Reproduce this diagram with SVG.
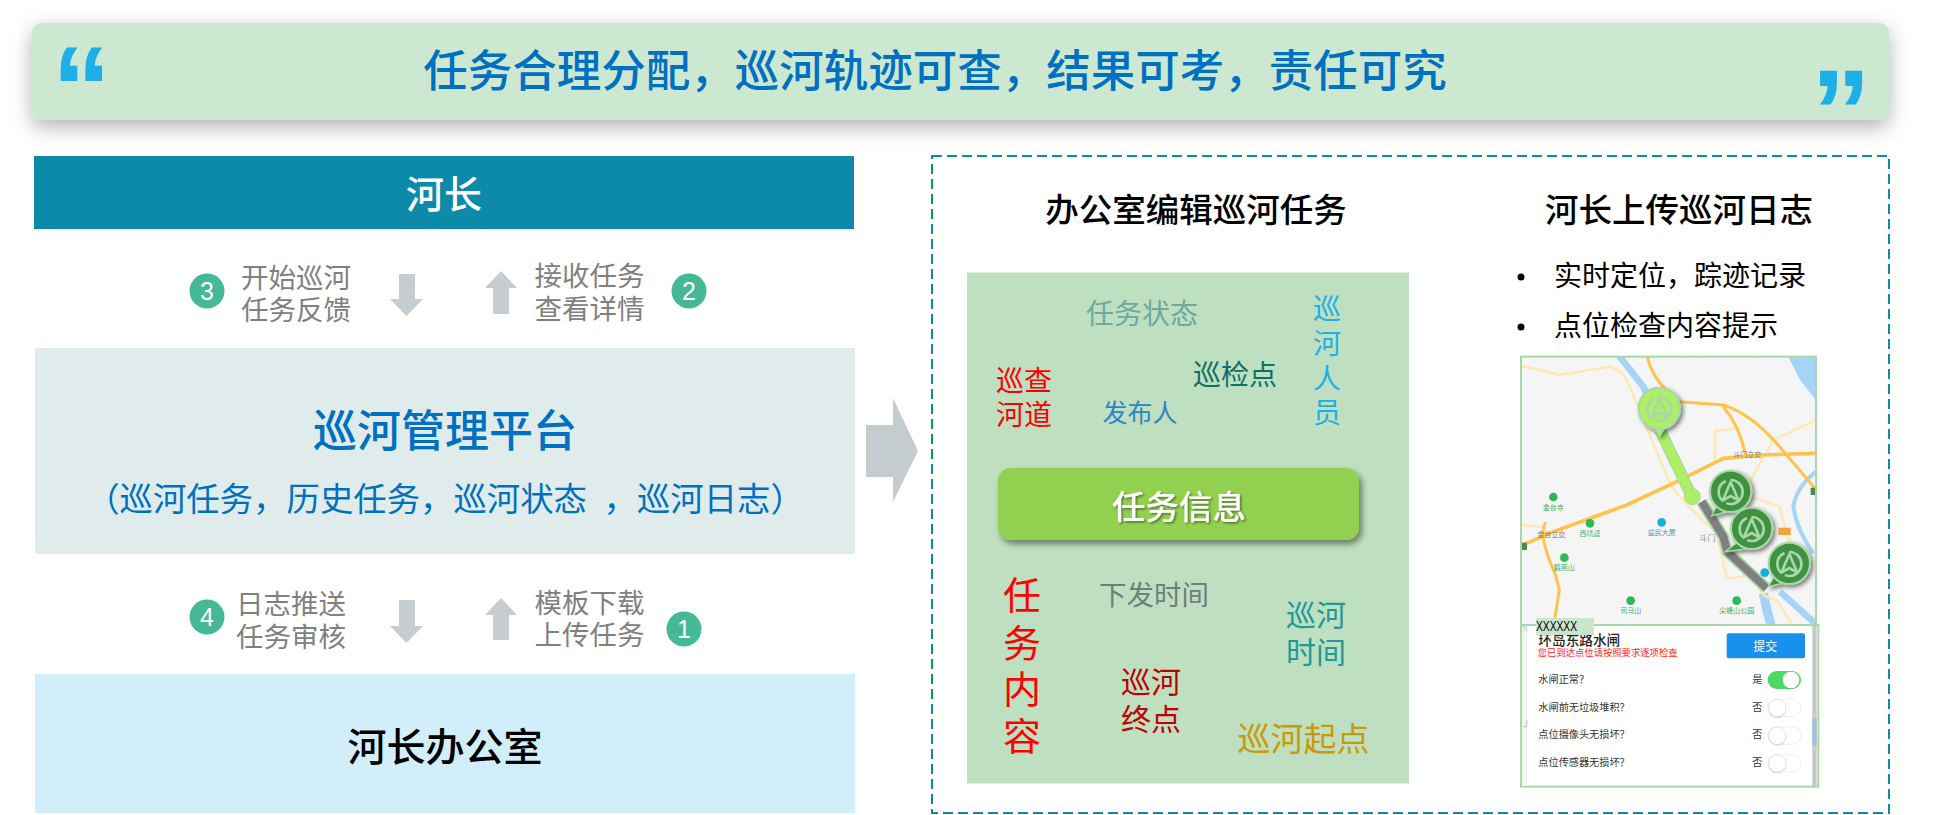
<svg xmlns="http://www.w3.org/2000/svg" width="1936" height="815" viewBox="0 0 1936 815">
<style>
text{font-family:"Noto Sans CJK SC","Noto Sans",sans-serif}
.m{text-anchor:middle}
.g{font-size:27.5px;fill:#808080}
.num{font-family:"Liberation Sans",Arial,sans-serif;font-size:25px;fill:#fff;text-anchor:middle}
.circ{fill:#45b995}
.arr{fill:#c5cdd3}
.blue{fill:#0070c0}
.quote{font-family:"Liberation Sans",Arial,sans-serif;font-weight:700;fill:#1eaee8}
.hd{font-size:33.5px;font-weight:500;fill:#000;text-anchor:middle}
.bl{font-size:28px;fill:#000}
.wc{font-size:28px;text-anchor:middle}
.road{fill:none;stroke:#ffc34d;stroke-width:9;stroke-linejoin:round;stroke-linecap:round}
.pale{fill:none;stroke:#ffe9b0;stroke-width:7;stroke-linejoin:round}
.river{fill:none;stroke:#a5d4f8;stroke-width:20}
.poi{font-size:21px;fill:#3fae6a;text-anchor:middle}
.poig{font-size:21px;fill:#777;text-anchor:middle}
.dot{fill:#2fb85a}
.pin{stroke:#a8d8a8;stroke-width:6}
.ring{fill:none;stroke:#a8d8a8;stroke-width:8;stroke-dasharray:70 14}
.nav{fill:none;stroke:#a8d8a8;stroke-width:8;stroke-linejoin:round}
.q{font-size:30.5px;fill:#333}
.off{fill:#fff;stroke:#e6e6e6;stroke-width:2}
.knob{fill:#fff;stroke:#ddd;stroke-width:2}
</style>
<defs>
<filter id="bs" x="-5%" y="-40%" width="110%" height="190%"><feDropShadow dx="0" dy="7" stdDeviation="10" flood-color="#000" flood-opacity=".3"/></filter>
<filter id="btn" x="-10%" y="-20%" width="120%" height="150%"><feDropShadow dx="3" dy="4" stdDeviation="3" flood-color="#000" flood-opacity=".45"/></filter>
<filter id="ts" x="-10%" y="-20%" width="120%" height="150%"><feDropShadow dx="1.5" dy="1.5" stdDeviation="1" flood-color="#000" flood-opacity=".45"/></filter>
<filter id="ps" x="-30%" y="-30%" width="170%" height="170%"><feDropShadow dx="7" dy="7" stdDeviation="7" flood-color="#000" flood-opacity=".5"/></filter>
<filter id="ks" x="-30%" y="-30%" width="170%" height="170%"><feDropShadow dx="0" dy="2" stdDeviation="2" flood-color="#000" flood-opacity=".25"/></filter>
<g id="navIcon"><circle r="36" class="ring"/><path class="nav" d="M0,-30 L24,26 L0,12 L-24,26 Z"/></g>
</defs>
<rect width="1936" height="815" fill="#fff"/>

<g id="banner">
<rect x="32" y="23" width="1857" height="97" rx="9" fill="#cde8d0" filter="url(#bs)"/>
<text class="quote" x="52" y="128.500" font-size="118">&#x201C;</text>
<text class="quote" x="1811" y="153.500" font-size="120">&#x201D;</text>
<text class="m blue" x="935" y="87" font-size="44.500" font-weight="500">任务合理分配&#xFF0C;巡河轨迹可查&#xFF0C;结果可考&#xFF0C;责任可究</text>
</g>

<g id="hezhang">
<rect x="34" y="156" width="820" height="73" fill="#0d89a9"/>
<text class="m" x="444" y="208" font-size="38" font-weight="500" fill="#fff">河长</text>
</g>

<g id="platform">
<rect x="35" y="348" width="820" height="206" fill="#e0eceb"/>
<text class="m blue" x="445" y="447" font-size="44" font-weight="500">巡河管理平台</text>
<text class="m blue" x="445" y="511" font-size="33.400" word-spacing="9">&#xFF08;巡河任务&#xFF0C;历史任务&#xFF0C;巡河状态 &#xFF0C;巡河日志&#xFF09;</text>
</g>

<g id="office">
<rect x="35" y="674" width="820" height="139" fill="#d2eefa"/>
<text class="m" x="445" y="761" font-size="39" font-weight="500" fill="#000">河长办公室</text>
</g>

<g id="connectors">
<path class="arr" d="M399,274H415V299H423L406.500,316L390,299H399Z"/>
<path class="arr" d="M493,314H509V288H517L501,271L485,288H493Z"/>
<path class="arr" d="M399,600H415V626H423L406.500,643L390,626H399Z"/>
<path class="arr" d="M493,640H509V615H517L501,598L485,615H493Z"/>
<path fill="#c5ccd0" d="M866,425H893V398L918,451L893,502V477H866Z"/>
</g>

<g id="step3">
<circle class="circ" cx="207" cy="291" r="17.500"/><text class="num" x="207" y="300">3</text>
<text class="g m" x="296" y="288">开始巡河</text><text class="g m" x="296" y="320">任务反馈</text>
</g>
<g id="step2">
<circle class="circ" cx="689" cy="291" r="17.500"/><text class="num" x="689" y="300">2</text>
<text class="g m" x="589.500" y="286">接收任务</text><text class="g m" x="589.500" y="319">查看详情</text>
</g>
<g id="step4">
<circle class="circ" cx="207" cy="617" r="17.500"/><text class="num" x="207" y="626">4</text>
<text class="g m" x="291" y="614">日志推送</text><text class="g m" x="291" y="647">任务审核</text>
</g>
<g id="step1">
<circle class="circ" cx="684" cy="629" r="17.500"/><text class="num" x="684" y="638">1</text>
<text class="g m" x="589.500" y="613">模板下载</text><text class="g m" x="589.500" y="645">上传任务</text>
</g>

<g id="detail">
<rect x="932" y="156" width="957" height="657" fill="#fff" stroke="#0d89a9" stroke-width="2" stroke-dasharray="10 5"/>
<text class="hd" x="1196" y="222">办公室编辑巡河任务</text>
<text class="hd" x="1679" y="222">河长上传巡河日志</text>
<circle cx="1521" cy="277" r="3.500"/><text class="bl" x="1554" y="286">实时定位&#xFF0C;踪迹记录</text>
<circle cx="1521" cy="327" r="3.500"/><text class="bl" x="1554" y="336">点位检查内容提示</text>
</g>

<g id="task-panel">
<rect x="967" y="272.500" width="442" height="511" fill="#bee0c0"/>
<text class="wc" x="1142" y="324" fill="#6fa8a0">任务状态</text>
<text class="wc" fill="#1eaee8"><tspan x="1327" y="319">巡</tspan><tspan x="1327" y="354">河</tspan><tspan x="1327" y="389">人</tspan><tspan x="1327" y="423">员</tspan></text>
<text class="wc" x="1024" y="391" fill="#f00">巡查</text><text class="wc" x="1024" y="425" fill="#f00">河道</text>
<text class="wc" x="1235" y="385" fill="#0f6f6a">巡检点</text>
<text class="m" x="1140" y="422" font-size="25" fill="#2e86c1">发布人</text>
<rect x="998" y="468" width="361" height="72" rx="13" fill="#92d14f" filter="url(#btn)"/>
<text class="m" x="1179" y="519" font-size="33.500" font-weight="500" fill="#fff" filter="url(#ts)">任务信息</text>
<text class="m" font-size="38" fill="#f00"><tspan x="1022" y="609">任</tspan><tspan x="1022" y="657">务</tspan><tspan x="1022" y="703">内</tspan><tspan x="1022" y="750">容</tspan></text>
<text class="wc" x="1154" y="605" style="font-size:27.5px" fill="#6b7f7f">下发时间</text>
<text class="m" x="1316" y="626" font-size="30" fill="#1d9a9a">巡河</text><text class="m" x="1316" y="663" font-size="30" fill="#1d9a9a">时间</text>
<text class="m" x="1151" y="693" font-size="30" fill="#c00000">巡河</text><text class="m" x="1151" y="730" font-size="30" fill="#c00000">终点</text>
<text class="m" x="1303.500" y="751" font-size="33" fill="#c99a06">巡河起点</text>
</g>

<g id="map" transform="translate(1510 350) scale(.33333)">
<clipPath id="mc"><rect x="33" y="20" width="885" height="810"/></clipPath>
<rect x="33" y="20" width="885" height="810" fill="#f5f5f5"/>
<g clip-path="url(#mc)">
<path fill="#a5d4f8" d="M835,20H925V160L870,90Z"/>
<path class="river" d="M325,15L400,110L430,180"/>
<path class="river" style="stroke-width:12" d="M918,365Q860,410 850,470Q860,540 910,610"/>
<path class="river" d="M810,725L915,820"/>
<path class="river" style="stroke-width:28" d="M760,730Q770,780 785,835"/>
<path class="pale" d="M35,48L150,75L300,50Q340,60 355,100L480,400Q510,450 620,550L650,685L735,675Q745,745 800,750L855,835"/>
<path class="pale" d="M615,330L615,242L685,235L692,270"/>
<path class="pale" d="M918,210L790,270L720,395"/>
<path class="pale" d="M720,440L810,470L830,560L905,640"/>
<path class="pale" d="M35,525L105,532"/>
<path class="road" d="M412,20Q425,80 470,120L510,155L640,165Q720,190 800,280L915,415"/>
<path class="road" d="M640,170Q690,230 705,310"/>
<path class="road" style="stroke-width:11" d="M38,585L130,545L350,465L500,395L640,325L750,315L918,310"/>
<path class="road" d="M105,520Q85,560 135,670L148,720L130,830"/>
<rect x="33" y="578" width="18" height="22" fill="#4b8a52"/>
<rect x="902" y="413" width="16" height="22" fill="#4b8a52"/>
<circle class="dot" cx="130" cy="441" r="13"/><text class="poi" x="130" y="479">金台寺</text>
<circle class="dot" cx="240" cy="520" r="13"/><text class="poi" x="240" y="558">西坑迳</text>
<text class="poig" x="124" y="562">金台立交</text>
<circle class="dot" cx="163" cy="623" r="13"/><text class="poi" x="163" y="660">鹤莞山</text>
<circle class="dot" cx="362" cy="752" r="13"/><text class="poi" x="362" y="790">司马山</text>
<circle class="dot" cx="680" cy="752" r="13"/><text class="poi" x="680" y="790">尖峰山公园</text>
<circle cx="455" cy="517" r="13" fill="#18b0d8"/><text class="poi" x="455" y="555" style="fill:#5a93a8">益民大厦</text>
<circle cx="764" cy="668" r="13" fill="#18b0d8"/>
<text class="poig" x="712" y="322">斗门立交</text>
<text class="poig" x="592" y="574" style="font-size:25px;fill:#999">斗门</text>
<rect x="805" y="533" width="37" height="22" fill="#f3a33c"/>
<path d="M575,455L640,560L652,605L770,715" fill="none" stroke="#a8d8a8" stroke-width="34"/>
<path d="M575,455L640,560L652,605L770,715" fill="none" stroke="#808080" stroke-width="24"/>
<path d="M450,240L545,438" fill="none" stroke="#a8d8a8" stroke-width="36"/>
<path d="M450,240L545,438" fill="none" stroke="#aef065" stroke-width="28"/>
<circle cx="547" cy="440" r="24" fill="#aef065" stroke="#a3d9a3" stroke-width="3"/>
<g filter="url(#ps)"><path d="M432,230H466L449,258Z" fill="#aef065" stroke="#a8d8a8" stroke-width="4"/><circle cx="448" cy="175" r="62" fill="#aef065" class="pin"/><use href="#navIcon" x="448" y="177"/></g>
<g filter="url(#ps)"><path d="M622,465L652,485L605,497Z" fill="#3f9142" stroke="#a8d8a8" stroke-width="4"/><circle cx="662" cy="424" r="62" fill="#3f9142" class="pin"/><use href="#navIcon" x="662" y="426"/></g>
<g filter="url(#ps)"><path d="M685,575L712,596L645,605Z" fill="#3f9142" stroke="#a8d8a8" stroke-width="4"/><circle cx="725" cy="535" r="62" fill="#3f9142" class="pin"/><use href="#navIcon" x="725" y="537"/></g>
<g filter="url(#ps)"><path d="M795,675L825,698L775,710Z" fill="#3f9142" stroke="#a8d8a8" stroke-width="4"/><circle cx="838" cy="640" r="62" fill="#3f9142" class="pin"/><use href="#navIcon" x="838" y="642"/></g>
</g>
<rect x="33" y="20" width="885" height="810" fill="none" stroke="#a8d8a8" stroke-width="6"/>
</g>

<g id="check-panel" transform="translate(1510 610) scale(.33333)">
<rect x="33" y="45" width="892" height="485" fill="#fff" stroke="#a8d8a8" stroke-width="6"/>
<rect x="36" y="48" width="16" height="480" fill="#f3f3f3"/>
<path d="M38,55L52,70V48H38Z" fill="#cfe4f8"/>
<path d="M40,350H50V330" fill="none" stroke="#bbb" stroke-width="3"/>
<rect x="907" y="48" width="13" height="480" fill="#c8c8c8"/>
<rect x="907" y="325" width="13" height="82" fill="#a7c0dc"/>
<text x="85" y="105" font-size="41" font-weight="500" fill="#222">环岛东路水闸</text>
<text x="83" y="138" font-size="28" fill="#f22">您已到达点位请按照要求逐项检查</text>
<rect x="650" y="70" width="235" height="75" rx="6" fill="#1890ee"/>
<text class="m" x="766" y="122" font-size="36" fill="#fff">提交</text>
<text class="q" x="85" y="220">水闸正常&#xFF1F;</text><text class="q" x="727" y="220">是</text>
<rect x="773" y="183" width="100" height="54" rx="27" fill="#4cd964"/><circle cx="843" cy="210" r="25" fill="#fff" filter="url(#ks)"/>
<text class="q" x="85" y="303">水闸前无垃圾堆积&#xFF1F;</text><text class="q" x="727" y="303">否</text>
<rect class="off" x="773" y="268" width="100" height="52" rx="26"/><circle class="knob" cx="802" cy="294" r="26" filter="url(#ks)"/>
<text class="q" x="85" y="385">点位摄像头无损坏&#xFF1F;</text><text class="q" x="727" y="385">否</text>
<rect class="off" x="773" y="351" width="100" height="52" rx="26"/><circle class="knob" cx="802" cy="377" r="26" filter="url(#ks)"/>
<text class="q" x="85" y="468">点位传感器无损坏&#xFF1F;</text><text class="q" x="727" y="468">否</text>
<rect class="off" x="773" y="434" width="100" height="52" rx="26"/><circle class="knob" cx="802" cy="460" r="26" filter="url(#ks)"/>
</g>

<g id="xlabel">
<rect x="1536" y="618" width="58" height="17" fill="#c9e5cb"/>
<text x="1536" y="631" font-size="14" textLength="41" lengthAdjust="spacingAndGlyphs" style="font-family:'Liberation Sans',Arial,sans-serif">XXXXXX</text>
</g>
</svg>
